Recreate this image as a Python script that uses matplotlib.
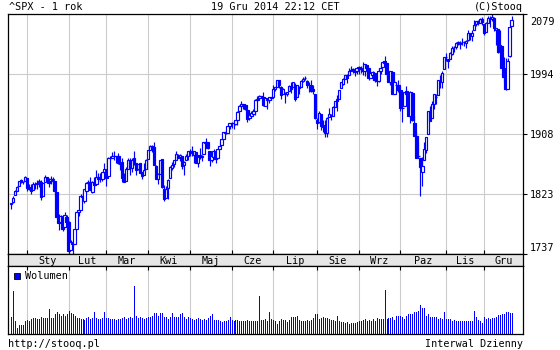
import numpy as np
import pandas as pd
import matplotlib
matplotlib.use("Agg")
import matplotlib.pyplot as plt
from matplotlib.patches import Rectangle
import matplotlib.transforms as mtransforms

# ---------------- data ----------------
holidays = ["2013-12-25", "2014-01-01", "2014-01-20", "2014-02-17", "2014-04-18",
            "2014-05-26", "2014-07-04", "2014-09-01", "2014-11-27"]
month_labels = ["Sty", "Lut", "Mar", "Kwi", "Maj", "Cze", "Lip", "Sie", "Wrz", "Paz", "Lis", "Gru"]

opens = [
    1809, 1812, 1822, 1828, 1835, 1843, 1841, 1842,
    1846, 1833, 1832, 1829, 1838, 1839, 1840, 1841, 1821, 1840, 1847, 1844, 1842, 1843, 1842, 1826, 1791, 1783, 1790, 1777, 1791,
    1783, 1743, 1753, 1752, 1774, 1797, 1800, 1820, 1814, 1828, 1839, 1840, 1826, 1840, 1837, 1847, 1846, 1844, 1855,
    1858, 1849, 1874, 1874, 1878, 1878, 1878, 1866, 1869, 1845, 1842, 1859, 1872, 1860, 1874, 1867, 1859, 1867, 1854, 1851, 1859,
    1873, 1886, 1891, 1890, 1863, 1845, 1852, 1873, 1830, 1818, 1832, 1846, 1861, 1866, 1872, 1878, 1876, 1877, 1865, 1871, 1878,
    1884, 1885, 1879, 1883, 1868, 1879, 1876, 1880, 1896, 1897, 1885, 1872, 1876, 1885, 1874, 1888, 1893, 1902, 1911, 1910, 1920,
    1924, 1924, 1923, 1928, 1942, 1949, 1950, 1950, 1943, 1931, 1934, 1937, 1942, 1957, 1960, 1963, 1962, 1949, 1959, 1957, 1961,
    1962, 1973, 1975, 1985, 1976, 1966, 1966, 1966, 1970, 1977, 1976, 1979, 1962, 1976, 1976, 1984, 1988, 1984, 1978, 1979, 1973, 1966,
    1929, 1926, 1937, 1918, 1922, 1910, 1933, 1935, 1935, 1947, 1958, 1958, 1974, 1980, 1987, 1993, 1992, 1998, 2001, 1998, 1999,
    2004, 2003, 2001, 1998, 2007, 2002, 1988, 1993, 1996, 1986, 1984, 1999, 2004, 2013, 2010, 1993, 1983, 1997, 1966, 1979, 1978,
    1971, 1945, 1948, 1970, 1964, 1935, 1967, 1925, 1906, 1877, 1874, 1855, 1872, 1886, 1909, 1941, 1931, 1951, 1962, 1964, 1983, 1982, 2001,
    2018, 2015, 2016, 2023, 2032, 2032, 2038, 2037, 2040, 2039, 2038, 2042, 2052, 2048, 2057, 2065, 2070, 2067, 2072,
    2065, 2054, 2067, 2073, 2072, 2074, 2056, 2058, 2028, 2034, 2003, 1990, 1973, 2019, 2062,
]
highs = [
    1811, 1820, 1829, 1834, 1842, 1844, 1842, 1849,
    1846, 1838, 1838, 1840, 1840, 1843, 1844, 1843, 1839, 1851, 1848, 1846, 1849, 1847, 1842, 1826, 1795, 1794, 1790, 1798, 1793,
    1785, 1758, 1756, 1774, 1798, 1801, 1823, 1826, 1831, 1841, 1843, 1848, 1842, 1847, 1858, 1853, 1853, 1855, 1867,
    1858, 1876, 1877, 1883, 1884, 1878, 1882, 1868, 1874, 1853, 1862, 1874, 1875, 1874, 1884, 1867, 1866, 1868, 1855, 1867, 1873,
    1886, 1893, 1893, 1897, 1864, 1853, 1872, 1873, 1836, 1834, 1844, 1863, 1869, 1872, 1884, 1880, 1880, 1877, 1870, 1880, 1885,
    1888, 1891, 1885, 1883, 1879, 1889, 1879, 1897, 1903, 1898, 1885, 1878, 1887, 1885, 1889, 1897, 1901, 1912, 1915, 1920, 1924,
    1926, 1925, 1928, 1942, 1950, 1955, 1951, 1951, 1943, 1938, 1941, 1944, 1958, 1963, 1964, 1963, 1968, 1961, 1959, 1961, 1962,
    1978, 1976, 1985, 1985, 1977, 1974, 1968, 1968, 1979, 1982, 1983, 1981, 1979, 1977, 1986, 1990, 1991, 1986, 1982, 1985, 1979, 1966,
    1932, 1942, 1937, 1928, 1929, 1933, 1945, 1937, 1948, 1956, 1964, 1972, 1983, 1988, 1993, 1994, 2002, 2005, 2002, 1999, 2003,
    2006, 2006, 2011, 2008, 2007, 2003, 1996, 1998, 1996, 1987, 2002, 2010, 2012, 2019, 2010, 1995, 1999, 1997, 1986, 1981, 1985,
    1971, 1952, 1969, 1977, 1964, 1970, 1968, 1934, 1912, 1898, 1874, 1876, 1898, 1905, 1942, 1949, 1955, 1965, 1965, 1985, 1992, 1999, 2018,
    2024, 2015, 2025, 2034, 2034, 2039, 2041, 2041, 2046, 2041, 2043, 2056, 2052, 2056, 2071, 2070, 2071, 2074, 2075,
    2065, 2068, 2077, 2077, 2079.47, 2075, 2060, 2058, 2056, 2034, 2018, 2017, 2017, 2061, 2077,
]
lows = [
    1802, 1810, 1822, 1828, 1834, 1839, 1837, 1842,
    1828, 1829, 1824, 1829, 1830, 1830, 1833, 1815, 1821, 1840, 1842, 1833, 1837, 1839, 1820, 1790, 1772, 1783, 1770, 1777, 1773,
    1740, 1743, 1737.92, 1752, 1774, 1792, 1800, 1815, 1810, 1825, 1835, 1829, 1825, 1832, 1836, 1840, 1840, 1842, 1847,
    1834, 1849, 1871, 1874, 1871, 1867, 1866, 1858, 1841, 1840, 1842, 1859, 1851, 1854, 1864, 1851, 1858, 1853, 1845, 1851, 1859,
    1873, 1886, 1883, 1864, 1844, 1837, 1852, 1832, 1814, 1818, 1816, 1846, 1857, 1862, 1872, 1875, 1870, 1859, 1851, 1871, 1872,
    1878, 1878, 1867, 1867, 1862, 1873, 1870, 1880, 1894, 1888, 1863, 1869, 1874, 1868, 1874, 1888, 1893, 1902, 1908, 1910, 1916,
    1917, 1916, 1921, 1922, 1942, 1948, 1944, 1943, 1926, 1929, 1932, 1937, 1936, 1955, 1958, 1960, 1948, 1949, 1944, 1953, 1957,
    1962, 1970, 1975, 1974, 1959, 1966, 1953, 1963, 1970, 1967, 1976, 1955, 1962, 1966, 1976, 1983, 1985, 1974, 1968, 1969, 1965, 1930,
    1916, 1925, 1914, 1911, 1905, 1905, 1933, 1928, 1935, 1947, 1942, 1958, 1974, 1978, 1987, 1981, 1992, 1998, 1996, 1991, 1994,
    1994, 1996, 1993, 1991, 1996, 1986, 1988, 1986, 1983, 1977, 1983, 1994, 2004, 2007, 1987, 1982, 1979, 1966, 1966, 1970, 1968,
    1941, 1926, 1948, 1959, 1935, 1925, 1927, 1906, 1874, 1874, 1821, 1835, 1872, 1882, 1909, 1927, 1931, 1944, 1951, 1964, 1974, 1974, 2001,
    2013, 2002, 2015, 2021, 2025, 2030, 2035, 2030, 2036, 2034, 2031, 2041, 2043, 2041, 2057, 2062, 2064, 2067, 2064,
    2049, 2054, 2067, 2061, 2069, 2055, 2035, 2024, 2027, 2002, 1982, 1972, 1973, 2018, 2062,
]
closes = [
    1810, 1818, 1828, 1833, 1842, 1841, 1841, 1848,
    1832, 1831, 1827, 1838, 1837, 1838, 1842, 1819, 1839, 1848, 1846, 1839, 1844, 1845, 1828, 1790, 1782, 1792, 1774, 1794, 1783,
    1742, 1755, 1752, 1773, 1797, 1800, 1820, 1819, 1830, 1839, 1841, 1829, 1840, 1836, 1848, 1845, 1845, 1854, 1859,
    1846, 1874, 1874, 1877, 1878, 1877, 1868, 1868, 1846, 1841, 1859, 1872, 1861, 1872, 1867, 1857, 1866, 1853, 1849, 1858, 1872,
    1886, 1891, 1889, 1865, 1845, 1852, 1872, 1833, 1816, 1831, 1843, 1862, 1865, 1872, 1880, 1875, 1879, 1863, 1869, 1878, 1884,
    1884, 1881, 1885, 1868, 1878, 1876, 1878, 1897, 1897, 1889, 1871, 1878, 1885, 1873, 1888, 1892, 1901, 1912, 1910, 1920, 1924,
    1925, 1924, 1928, 1940, 1949, 1951, 1951, 1944, 1930, 1936, 1938, 1942, 1957, 1959, 1963, 1963, 1950, 1960, 1957, 1961, 1960,
    1973, 1975, 1985, 1978, 1964, 1973, 1965, 1968, 1977, 1973, 1982, 1958, 1978, 1974, 1984, 1987, 1988, 1978, 1979, 1970, 1970, 1931,
    1925, 1939, 1920, 1920, 1910, 1932, 1937, 1934, 1947, 1955, 1955, 1972, 1982, 1987, 1992, 1988, 1998, 2000, 2000, 1997, 2003,
    2002, 2001, 1998, 2008, 2002, 1988, 1996, 1997, 1986, 1984, 1999, 2002, 2011, 2010, 1994, 1983, 1998, 1966, 1983, 1978, 1972,
    1946, 1946, 1968, 1965, 1935, 1969, 1928, 1906, 1875, 1878, 1862, 1863, 1887, 1904, 1941, 1927, 1951, 1965, 1962, 1985, 1982, 1995, 2018,
    2018, 2012, 2024, 2031, 2032, 2038, 2040, 2038, 2039, 2040, 2041, 2052, 2049, 2053, 2064, 2069, 2067, 2073, 2068,
    2053, 2067, 2074, 2072, 2075, 2060, 2060, 2026, 2035, 2002, 1990, 1973, 2013, 2061, 2071,
]
volumes = [
    17, 43, 13, 6, 9, 9, 9, 13,
    14, 13, 15, 16, 16, 15, 15, 17, 16, 16, 16, 25, 16, 16, 20, 22, 20, 18, 20, 18, 20,
    23, 21, 20, 18, 16, 16, 15, 15, 14, 16, 17, 15, 16, 22, 16, 15, 15, 16, 22,
    16, 16, 15, 15, 15, 14, 15, 15, 16, 17, 15, 16, 17, 16, 48, 18, 16, 17, 16, 15, 16,
    17, 17, 18, 21, 21, 18, 21, 21, 17, 17, 15, 17, 21, 17, 17, 17, 20, 21, 17, 15, 17,
    16, 15, 14, 15, 16, 15, 14, 15, 14, 16, 18, 20, 14, 14, 14, 13, 12, 13, 13, 14, 17,
    14, 13, 14, 14, 13, 13, 13, 13, 14, 13, 13, 13, 13, 13, 38, 14, 14, 15, 13, 22, 15,
    14, 13, 10, 13, 15, 14, 14, 12, 14, 17, 17, 17, 18, 14, 13, 13, 13, 14, 13, 14, 16, 20,
    20, 15, 16, 17, 16, 16, 15, 14, 14, 13, 18, 13, 12, 12, 11, 12, 10, 11, 11, 11, 12,
    13, 13, 14, 15, 13, 14, 13, 15, 13, 16, 15, 15, 15, 44, 15, 16, 16, 17, 14, 18, 18,
    18, 17, 15, 18, 20, 20, 20, 22, 22, 23, 29, 26, 26, 18, 20, 17, 17, 17, 17, 15, 16, 15, 22,
    15, 15, 15, 13, 14, 13, 13, 13, 13, 13, 13, 13, 13, 13, 23, 17, 14, 13, 11,
    17, 15, 16, 15, 16, 16, 17, 19, 19, 20, 20, 22, 22, 21, 21,
]

# ---------------- setup ----------------
BLUE = "#0000ff"
GRID = "#cccccc"
FONT = "DejaVu Sans Mono"
FS = 7.3
W, H = 560, 350
plt.rcParams["font.family"] = FONT

dates = pd.bdate_range("2013-12-19", "2014-12-19")
dates = dates[~dates.isin(pd.to_datetime(holidays))]
n = len(closes)
x = np.arange(n)
months = np.array([d.month for d in dates[:n]])
month_starts = [i for i in range(1, n) if months[i] != months[i - 1]]

o = np.array(opens, float); h = np.array(highs, float)
l = np.array(lows, float); c = np.array(closes, float)
XL = (-1.5, 257.7)

fig = plt.figure(figsize=(W / 100, H / 100), dpi=100, facecolor="white")

def frac_axes(x0, y0, x1, y1):
    return fig.add_axes([x0 / W, 1 - y1 / H, (x1 - x0) / W, (y1 - y0) / H])

LEFT, RIGHT = 8, 523
ax = frac_axes(LEFT, 14, RIGHT, 254)
band = frac_axes(LEFT, 254, RIGHT, 266)
vax = frac_axes(LEFT, 266, RIGHT, 334)

# ---------------- main price panel ----------------
ylo, yhi = l.min(), h.max()
ax.set_xlim(*XL)
ax.set_ylim(ylo, yhi)
yt = np.linspace(ylo, yhi, 5)
ax.set_yticks(yt)
ax.set_yticklabels([str(int(v)) for v in yt])
ax.yaxis.tick_right()
ax.tick_params(axis="y", direction="out", length=3, width=0.8, labelsize=FS, pad=2)
tl = ax.get_yticklabels()
tl[0].set_verticalalignment("bottom")
tl[-1].set_verticalalignment("top")
tl[-1].set_transform(tl[-1].get_transform() + mtransforms.ScaledTranslation(0, -3 / 100, fig.dpi_scale_trans))
tl[0].set_transform(tl[0].get_transform() + mtransforms.ScaledTranslation(0, 1 / 100, fig.dpi_scale_trans))
ax.set_xticks(month_starts)
ax.set_xticklabels([])
ax.tick_params(axis="x", direction="in", length=3, width=0.8)
ax.grid(True, color=GRID, lw=0.8, zorder=0)
ax.set_axisbelow(True)
for s in ax.spines.values():
    s.set_color("black"); s.set_linewidth(0.9)

ax.vlines(x, l, h, color=BLUE, lw=0.85, zorder=2)
up = c >= o
ax.bar(x, np.abs(c - o), bottom=np.minimum(o, c), width=1.25,
       color=["white" if u else BLUE for u in up], edgecolor=BLUE,
       linewidth=0.85, zorder=3)

# ---------------- month band ----------------
band.set_xlim(*XL)
band.set_ylim(0, 1)
band.set_facecolor("#e6e6e6")
band.set_xticks([]); band.set_yticks([])
for s in band.spines.values():
    s.set_color("black"); s.set_linewidth(0.9)
bounds = month_starts + [XL[1]]
for k in range(len(month_starts)):
    mid = (bounds[k] + bounds[k + 1]) / 2
    band.text(mid, 0.45, month_labels[k], ha="center", va="center", fontsize=FS)

# ---------------- volume panel ----------------
vax.set_xlim(*XL)
vax.set_ylim(0, max(volumes) * 1.42)
vax.set_xticks(month_starts)
vax.set_xticklabels([])
vax.xaxis.tick_top()
vax.tick_params(axis="x", direction="in", length=3, width=0.8)
vax.set_yticks([])
vax.grid(True, axis="x", color=GRID, lw=0.8, zorder=0)
vax.set_axisbelow(True)
for s in vax.spines.values():
    s.set_color("black"); s.set_linewidth(0.9)
vax.vlines(x, 0, volumes, color=BLUE, lw=0.6, zorder=2, antialiased=False)
vax.add_patch(Rectangle((6 / 515, (334 - 279) / 68), 6 / 515, 6 / 68,
                        transform=vax.transAxes, facecolor=BLUE,
                        edgecolor="black", lw=0.6, zorder=4))
vax.text(17 / 515, (334 - 276) / 68, "Wolumen", transform=vax.transAxes,
         ha="left", va="center", fontsize=FS, zorder=4)

# ---------------- header / footer ----------------
fig.text(9 / W, 1 - 7.5 / H, "^SPX - 1 rok", ha="left", va="center", fontsize=FS)
fig.text(275 / W, 1 - 7.5 / H, "19 Gru 2014 22:12 CET", ha="center", va="center", fontsize=FS)
fig.text(RIGHT / W, 1 - 7.5 / H, "(C)Stooq", ha="right", va="center", fontsize=FS)
fig.text(8 / W, 1 - 344 / H, "http://stooq.pl", ha="left", va="center", fontsize=FS)
fig.text(RIGHT / W, 1 - 344 / H, "Interwal Dzienny", ha="right", va="center", fontsize=FS)

fig.savefig("out.png", dpi=100, facecolor="white")
